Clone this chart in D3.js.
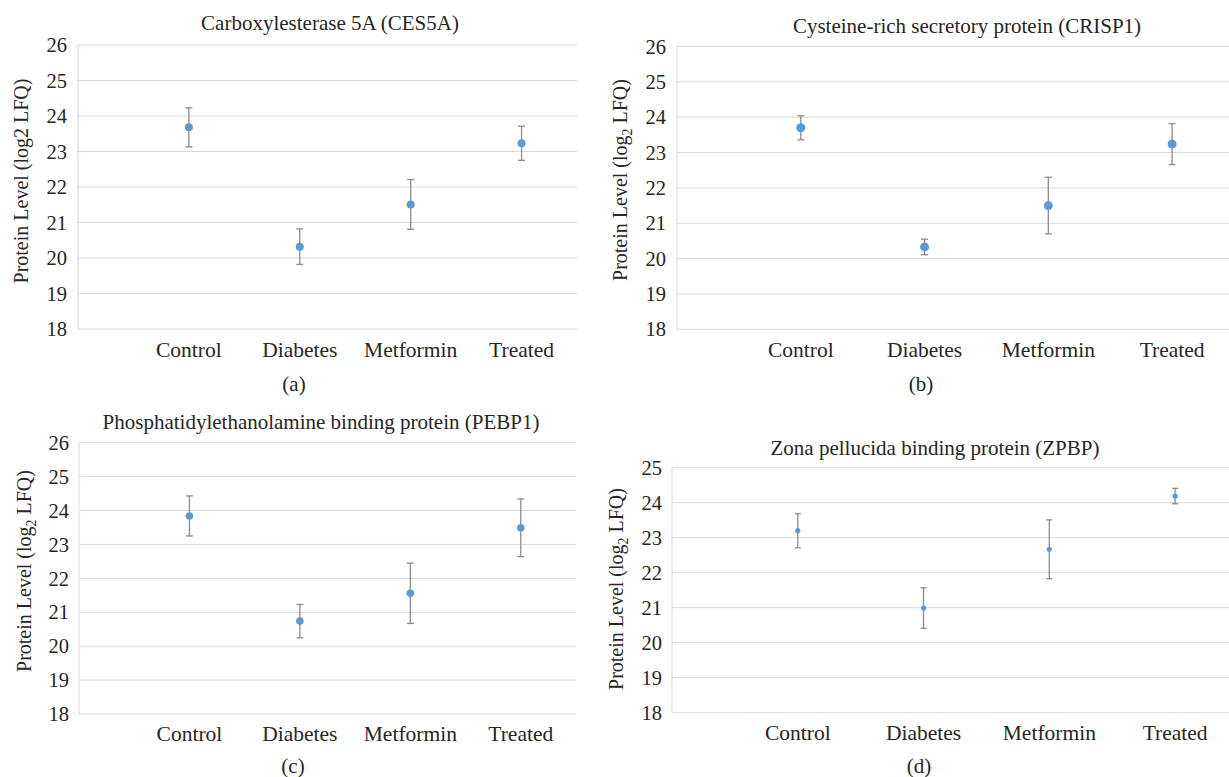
<!DOCTYPE html>
<html lang="en">
<head>
<meta charset="UTF-8">
<title>Protein levels by group</title>
<script src="https://d3js.org/d3.v7.min.js"></script>
<style>
    body {
        margin: 0;
        background: #fff;
    }
    svg {
        display: block;
        font-family: "Liberation Serif", "Times New Roman", serif;
    }
    .grid line {
        stroke: #d9d9d9;
        stroke-width: 1px;
    }
    .tick-label {
        font-size: 20.5px;
        fill: #262626;
    }
    .cat-label {
        font-size: 21.5px;
        fill: #262626;
    }
    .title {
        font-size: 21px;
        fill: #262626;
    }
    .ylabel {
        font-size: 20px;
        fill: #262626;
    }
    .panel-tag {
        font-size: 21px;
        fill: #262626;
    }
    .err {
        stroke: #8c8c8c;
        stroke-width: 1.3px;
    }
    .dot {
        fill: #5b9bd5;
    }
</style>
</head>
<body>
<svg id="chart" width="1229" height="777"></svg>
<script>
    // groups on the x axis
    const categories = ["Control", "Diabetes", "Metformin", "Treated"];

    // mean and error (half bar length) for each protein, log2 LFQ
    const ces5aMean = [23.68, 20.32, 21.51, 23.23];
    const ces5aErr = [0.55, 0.50, 0.70, 0.48];

    const crisp1Mean = [23.70, 20.33, 21.50, 23.24];
    const crisp1Err = [0.34, 0.22, 0.80, 0.58];

    const pebp1Mean = [23.84, 20.74, 21.56, 23.49];
    const pebp1Err = [0.59, 0.49, 0.89, 0.85];

    const zpbpMean = [23.20, 20.99, 22.67, 24.19];
    const zpbpErr = [0.49, 0.58, 0.84, 0.22];

    // y tick values
    const ticks26 = [18, 19, 20, 21, 22, 23, 24, 25, 26];
    const ticks25 = [18, 19, 20, 21, 22, 23, 24, 25];

    const svg = d3.select("#chart");

    function drawPanel(p) {
        const g = svg.append("g");

        const y = d3.scaleLinear()
            .domain([18, d3.max(p.ticks)])
            .range([p.bottom, p.top]);

        // excel-like spacing: first group one step in, last half a step from the right edge
        const step = (p.right - p.left) / 4.5;
        const x = d3.scalePoint()
            .domain(categories)
            .range([p.left + step, p.left + 4 * step]);

        // gridlines
        g.append("g")
            .attr("class", "grid")
            .selectAll("line")
            .data(p.ticks)
            .enter()
            .append("line")
            .attr("x1", p.left)
            .attr("x2", p.right)
            .attr("y1", d => y(d))
            .attr("y2", d => y(d));

        // left axis line
        g.append("g")
            .attr("class", "grid")
            .append("line")
            .attr("x1", p.left)
            .attr("x2", p.left)
            .attr("y1", p.top)
            .attr("y2", p.bottom);

        // y tick labels
        g.selectAll(".tick-label")
            .data(p.ticks)
            .enter()
            .append("text")
            .attr("class", "tick-label")
            .attr("x", p.tickX)
            .attr("y", d => y(d))
            .attr("dy", "0.35em")
            .attr("text-anchor", "end")
            .text(d => d);

        // category labels
        g.selectAll(".cat-label")
            .data(categories)
            .enter()
            .append("text")
            .attr("class", "cat-label")
            .attr("x", d => x(d))
            .attr("y", p.catY)
            .attr("text-anchor", "middle")
            .text(d => d);

        // title
        g.append("text")
            .attr("class", "title")
            .attr("x", p.titleX)
            .attr("y", p.titleY)
            .attr("text-anchor", "middle")
            .text(p.title);

        // y axis label
        const yl = g.append("text")
            .attr("class", "ylabel")
            .attr("text-anchor", "middle")
            .attr("transform", `translate(${p.ylX},${p.ylY}) rotate(-90)`);
        if (p.subscript) {
            yl.append("tspan").text("Protein Level (log");
            yl.append("tspan").attr("font-size", "14px").attr("dy", 5).text("2");
            yl.append("tspan").attr("dy", -5).text(" LFQ)");
        } else {
            yl.text("Protein Level (log2 LFQ)");
        }

        // panel tag
        g.append("text")
            .attr("class", "panel-tag")
            .attr("x", p.tagX)
            .attr("y", p.tagY)
            .attr("text-anchor", "middle")
            .text(p.tag);

        const rows = categories.map((c, i) => ({ c: c, m: p.mean[i], e: p.err[i] }));

        // error bars
        const eb = g.selectAll(".eb")
            .data(rows)
            .enter()
            .append("g");
        eb.append("line")
            .attr("class", "err")
            .attr("x1", d => x(d.c))
            .attr("x2", d => x(d.c))
            .attr("y1", d => y(d.m - d.e))
            .attr("y2", d => y(d.m + d.e));
        [1, -1].forEach(s => {
            eb.append("line")
                .attr("class", "err")
                .attr("x1", d => x(d.c) - p.cap)
                .attr("x2", d => x(d.c) + p.cap)
                .attr("y1", d => y(d.m + s * d.e))
                .attr("y2", d => y(d.m + s * d.e));
        });

        // points
        g.selectAll(".dot")
            .data(rows)
            .enter()
            .append("circle")
            .attr("class", "dot")
            .attr("cx", d => x(d.c))
            .attr("cy", d => y(d.m))
            .attr("r", p.r);
    }

    drawPanel({
        title: "Carboxylesterase 5A (CES5A)", tag: "(a)", subscript: false,
        mean: ces5aMean, err: ces5aErr, ticks: ticks26,
        left: 78, right: 577, top: 45, bottom: 329,
        tickX: 67, catY: 357, titleX: 330, titleY: 30,
        ylX: 28, ylY: 181, tagX: 294, tagY: 391, r: 4, cap: 3.5
    });

    drawPanel({
        title: "Cysteine-rich secretory protein (CRISP1)", tag: "(b)", subscript: true,
        mean: crisp1Mean, err: crisp1Err, ticks: ticks26,
        left: 677, right: 1234, top: 46.5, bottom: 329.3,
        tickX: 666, catY: 357, titleX: 967, titleY: 33,
        ylX: 627, ylY: 180, tagX: 921, tagY: 391, r: 4.5, cap: 3.5
    });

    drawPanel({
        title: "Phosphatidylethanolamine binding protein (PEBP1)", tag: "(c)", subscript: true,
        mean: pebp1Mean, err: pebp1Err, ticks: ticks26,
        left: 79, right: 576, top: 442.7, bottom: 714,
        tickX: 69, catY: 741, titleX: 321, titleY: 429,
        ylX: 31, ylY: 571, tagX: 293, tagY: 773, r: 3.8, cap: 3.5
    });

    drawPanel({
        title: "Zona pellucida binding protein (ZPBP)", tag: "(d)", subscript: true,
        mean: zpbpMean, err: zpbpErr, ticks: ticks25,
        left: 672, right: 1238, top: 467.7, bottom: 712.7,
        tickX: 662, catY: 740, titleX: 935, titleY: 455,
        ylX: 623, ylY: 589, tagX: 919, tagY: 773, r: 2.6, cap: 3
    });
</script>
</body>
</html>
